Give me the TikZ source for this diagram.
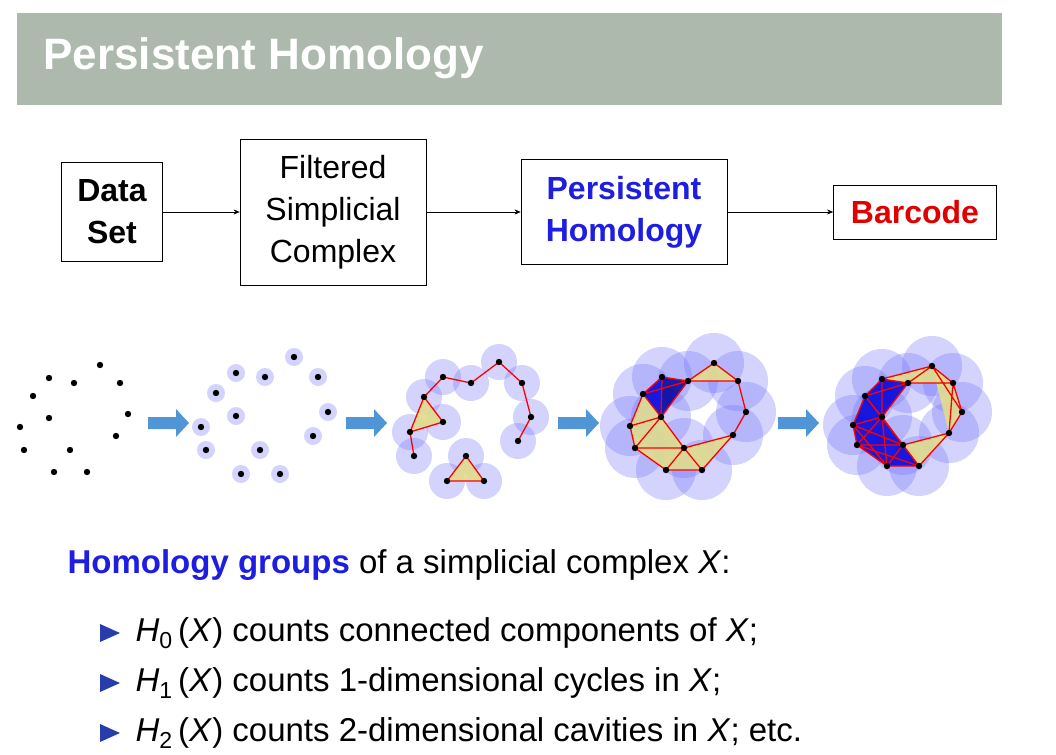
\documentclass[tikz,border=0pt]{standalone}
\usepackage{fontspec}
\setmainfont{Liberation Sans}
\usetikzlibrary{positioning,arrows.meta}
\definecolor{titlegray}{RGB}{174,185,174}
\definecolor{phblue}{RGB}{30,30,225}
\definecolor{bcred}{RGB}{225,0,0}
\definecolor{ballblue}{RGB}{110,110,250}
\definecolor{arrblue}{RGB}{80,150,215}
\definecolor{triyellow}{RGB}{225,220,140}
\definecolor{bulletblue}{RGB}{40,60,170}

\begin{document}
\begin{tikzpicture}[x=1pt,y=-1pt,>={Stealth[length=6pt,width=5pt]},
                    box/.style={draw,thick,align=center,inner sep=4pt,
                                font=\fontsize{32}{42}\selectfont},
                    ball/.style={fill=ballblue,fill opacity=0.3,draw=none},
                    edge/.style={draw=red,line width=1.3pt},
                    yfill/.style={fill=triyellow,fill opacity=0.9},
                    bfill/.style={fill=blue!85!black,fill opacity=0.85},
                    bigarrow/.style={fill=arrblue,draw=none}]
  \useasboundingbox (0,0) rectangle (1056,754);

  % title bar
  \fill[titlegray] (17,13) rectangle (1002,105);
  \node[anchor=west,text=white,font=\fontsize{44}{48}\selectfont\bfseries]
       (title) at (40,58) {Persistent Homology};

  % pipeline
  \node[box,font=\fontsize{32}{42}\selectfont\bfseries,minimum width=101pt,minimum height=99pt]
       (data) at (112,212) {Data\\Set};
  \node[box,minimum width=186pt,minimum height=146pt] (filt) at (333,212)
       {Filtered\\Simplicial\\Complex};
  \node[box,text=phblue,font=\fontsize{32}{42}\selectfont\bfseries,
        minimum width=206pt,minimum height=105pt] (pers) at (624,212)
       {Persistent\\Homology};
  \node[box,text=bcred,font=\fontsize{32}{42}\selectfont\bfseries,
        minimum width=163pt,minimum height=54pt] (bar) at (915,212) {Barcode};
  \draw[->] (data) -- (filt);
  \draw[->] (filt) -- (pers);
  \draw[->] (pers) -- (bar);

  % point clouds
  \foreach \n/\x/\y in {1/100/365,2/49/378,3/74/383,4/120/383,5/33/396,6/128/414,7/49/418,
                        8/20/427,9/116/436,10/24/450,11/70/450,12/54/472,13/87/472}
    \coordinate (a\n) at (\x,\y);
  \foreach \n/\x/\y in {1/294/357,2/236/373,3/265/377,4/318/377,5/216/393,6/328/412,7/236/416,
                        8/201/427,9/313/436,10/206/450,11/260/450,12/241/474,13/280/474}
    \coordinate (b\n) at (\x,\y);
  \foreach \n/\x/\y in {1/499/362,2/443/377,3/471/383,4/522/383,5/424/397,6/531/417,7/443/422,
                        8/410/432,9/518/441,10/414/456,11/466/456,12/447/481,13/484/481}
    \coordinate (c\n) at (\x,\y);
  \foreach \n/\x/\y in {1/714/363,2/662/377,3/688/381,4/738/381,5/643/394,6/746/412,7/661/417,
                        8/630/426,9/733/435,10/635/448,11/684/448,12/666/470,13/702/470}
    \coordinate (d\n) at (\x,\y);
  \foreach \n/\x/\y in {1/932/366,2/882/379,3/908/383,4/953/383,5/865/396,6/962/412,7/882/417,
                        8/853/425,9/949/433,10/857/445,11/903/445,12/887/466,13/919/466}
    \coordinate (e\n) at (\x,\y);

  % balls
  \foreach \n in {1,...,13} {
    \path[ball] (b\n) circle (9);
    \path[ball] (c\n) circle (18);
    \path[ball] (d\n) circle (30);
    \path[ball] (e\n) circle (30);
  }

  % third complex
  \path[yfill] (c8) -- (c5) -- (c7) -- cycle;
  \path[yfill] (c11) -- (c12) -- (c13) -- cycle;
  \draw[edge] (c10) -- (c8) -- (c5) -- (c2) -- (c3) -- (c1) -- (c4) -- (c6) -- (c9);
  \draw[edge] (c8) -- (c7) -- (c5) (c11) -- (c12) -- (c13) -- cycle;

  % fourth complex
  \path[yfill] (d3) -- (d1) -- (d4) -- cycle;
  \path[bfill] (d2) -- (d5) -- (d7) -- cycle;
  \path[bfill,fill=blue!60!black] (d2) -- (d3) -- (d7) -- cycle;
  \path[yfill] (d5) -- (d8) -- (d10) -- (d12) -- (d13) -- (d9) -- (d11) -- (d7) -- cycle;
  \draw[edge] (d3) -- (d1) -- (d4) -- cycle (d4) -- (d6) -- (d9) -- (d11)
              (d2) -- (d5) -- (d7) -- cycle (d2) -- (d3) -- (d7) (d5) -- (d3)
              (d5) -- (d8) -- (d10) -- (d12) -- (d13) -- (d11) -- (d7) -- (d8)
              (d10) -- (d11) -- (d12) (d13) -- (d9) (d7) -- (d10);

  % fifth complex
  \path[bfill] (e2) -- (e3) -- (e7) -- (e11) -- (e13) -- (e12) -- (e10) -- (e8) -- (e5) -- cycle;
  \path[yfill] (e2) -- (e1) -- (e3) -- cycle;
  \path[yfill] (e3) -- (e1) -- (e4) -- cycle;
  \path[yfill] (e1) -- (e4) -- (e6) -- (e9) -- cycle;
  \path[yfill] (e11) -- (e9) -- (e13) -- cycle;
  \draw[edge] (e2) -- (e1) -- (e4) -- (e6) -- (e9) -- (e11) (e2) -- (e3) -- (e1) (e3) -- (e4)
              (e1) -- (e6) (e4) -- (e9) (e9) -- (e13)
              (e2) -- (e5) -- (e8) -- (e10) -- (e12) -- (e13) -- (e11) -- (e7) -- (e5)
              (e2) -- (e7) (e3) -- (e7) (e8) -- (e7) -- (e10) (e8) -- (e11) (e5) -- (e11)
              (e10) -- (e11) -- (e12) (e8) -- (e12) (e7) -- (e12) (e10) -- (e13) (e3) -- (e5);

  % vertices
  \foreach \p in {a,b,c,d,e}
    \foreach \n in {1,...,13}
      \fill (\p\n) circle (3.2);

  % arrows between stages
  \foreach \x in {148,346,558,778}
    \path[bigarrow] (\x,417) -- ++(28,0) -- ++(0,-8) -- ++(13,14) -- ++(-13,14)
                    -- ++(0,-8) -- ++(-28,0) -- cycle;

  % homology text
  \node[anchor=west,font=\fontsize{33}{36}\selectfont] (hg) at (64,565)
       {\textcolor{phblue}{\bfseries Homology groups} of a simplicial complex \textit{X}:};
  \foreach \i/\t in {0/counts connected components of \textit{X};,
                     1/counts 1-dimensional cycles in \textit{X};,
                     2/counts 2-dimensional cavities in \textit{X}; etc.} {
    \fill[bulletblue] (100,633-9+50*\i) -- ++(20,9) -- ++(-20,9) -- cycle;
    \node[anchor=west,font=\fontsize{33}{36}\selectfont] (item\i) at (132,633+50*\i)
         {\textit{H}\textsubscript{\i}\,(\textit{X}) \t};
  }
\end{tikzpicture}
\end{document}
